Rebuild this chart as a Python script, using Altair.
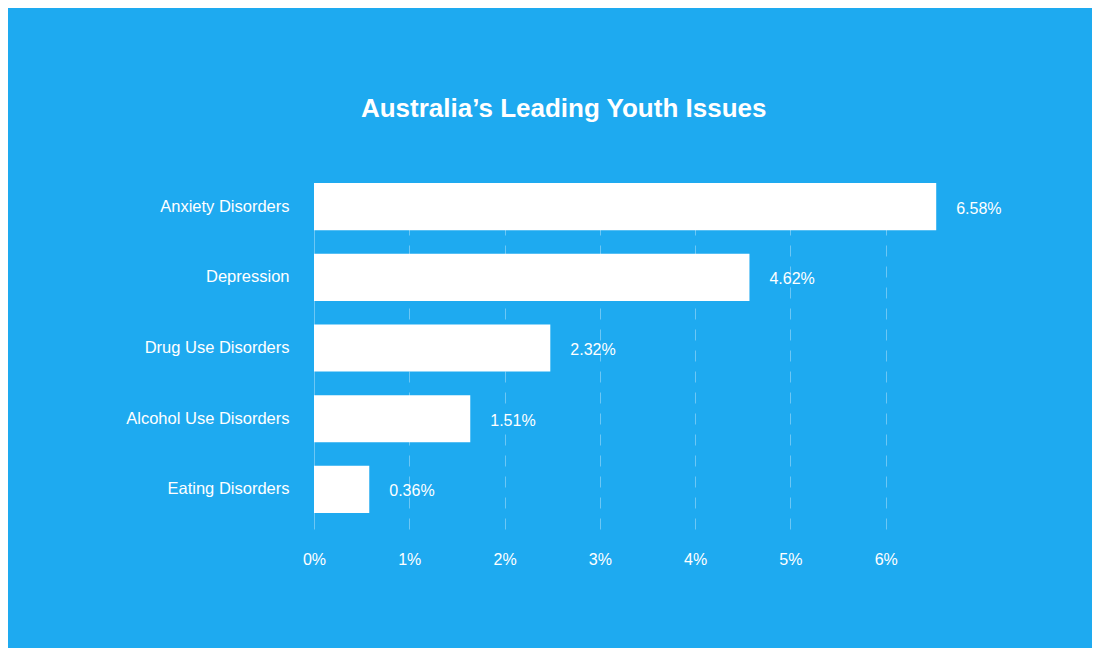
import altair as alt
import pandas as pd

# Categories, bar lengths as drawn (%) and the printed value labels
issues = ["Anxiety Disorders", "Depression", "Drug Use Disorders",
          "Alcohol Use Disorders", "Eating Disorders"]
bar_values = [6.53, 4.57, 2.48, 1.64, 0.58]
value_labels = ["6.58%", "4.62%", "2.32%", "1.51%", "0.36%"]
x_ticks = [0, 1, 2, 3, 4, 5, 6]

bg = "#1EAAF0"
font = "Liberation Sans"

df = pd.DataFrame({"issue": issues, "value": bar_values, "label": value_labels})

y_enc = alt.Y("issue:N", sort=issues,
              scale=alt.Scale(paddingInner=0.333, paddingOuter=0.113, align=0),
              axis=alt.Axis(title=None, ticks=False, domain=False,
                            labelColor="white", labelFontSize=16.5, labelFont=font,
                            labelPadding=25))

x_enc = alt.X("value:Q", scale=alt.Scale(domain=[0, 7], nice=False),
              axis=alt.Axis(title=None, values=x_ticks, labelExpr="datum.value + '%'",
                            ticks=False, domain=False, grid=True, labelFlush=False,
                            gridColor="white", gridOpacity=0.35,
                            gridDash=alt.condition("datum.value == 0", alt.value([]), alt.value([11, 10])),
                            labelColor="white", labelFontSize=16, labelFont=font,
                            labelPadding=22))

bars = alt.Chart(df).mark_bar(color="white").encode(x=x_enc, y=y_enc)

text = alt.Chart(df).mark_text(align="left", baseline="middle", dx=20, dy=2,
                               color="white", fontSize=16, font=font).encode(
    x="value:Q", y=alt.Y("issue:N", sort=issues), text="label:N")

chart = (
    alt.layer(bars, text)
    .properties(
        width=667, height=346,
        background=bg,
        padding={"left": 306, "top": 175, "right": 111, "bottom": 119},
        autosize=alt.AutoSizeParams(type="none"),
        title=alt.TitleParams("Australia’s Leading Youth Issues", color="white",
                              fontSize=26, font=font, fontWeight="bold",
                              anchor="middle", frame="bounds", offset=61),
    )
    .configure_view(stroke=None)
)

chart.save("out.html", embed_options={"renderer": "svg", "actions": False})
